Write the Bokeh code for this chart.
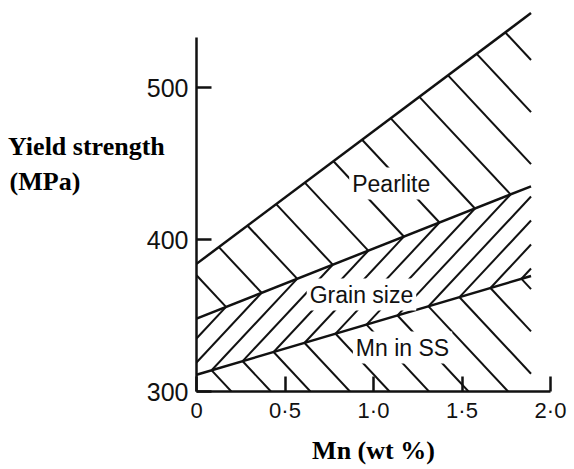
import numpy as np
from bokeh.plotting import figure
from bokeh.models import FixedTicker, Label
from bokeh.embed import file_html
from bokeh.resources import INLINE

# ---- data ----
mn = [0.0, 1.89]                 # Mn (wt %)
mn_in_ss = [311, 376]            # upper edge of "Mn in SS" band (MPa)
grain_size = [348, 435]          # upper edge of "Grain size" band (MPa)
pearlite = [384, 549]            # upper edge of "Pearlite" band (MPa)
x_ticks = [0, 0.5, 1.0, 1.5, 2.0]
x_tick_labels = ["0", "0·5", "1·0", "1·5", "2·0"]
y_ticks = [300, 400, 500]
region_names = ["Pearlite", "Grain size", "Mn in SS"]

# ---- layout ----
W, H = 574, 469
BL, BR, BT, BB = 196, 24, 5, 78
X0, X1 = 0.0, 2.0
Y0, Y1 = 300, 554
KX = (W - BL - BR) / (X1 - X0)
KY = (H - BT - BB) / (Y1 - Y0)

p = figure(width=W, height=H, x_range=(X0, X1), y_range=(Y0, Y1),
           output_backend="svg", toolbar_location=None,
           min_border_left=BL, min_border_right=BR,
           min_border_top=BT, min_border_bottom=BB)
p.outline_line_color = None
p.grid.visible = False
p.background_fill_color = "white"
p.border_fill_color = "white"

INK = "#111111"

# ---- hatching (derived from the boundary arrays, in pixel space) ----
def px(xs, ys):
    return (np.asarray(xs, float) - X0) * KX, (np.asarray(ys, float) - Y0) * KY

u_end = (mn[-1] - X0) * KX
uu = np.linspace(0.0, u_end, 4001)

def boundary(ys):
    u, w = px(mn, ys)
    s = (w[-1] - w[0]) / (u[-1] - u[0])
    return (lambda q: np.interp(q, u, w)), s, w[0] - s * u[0]

zero = lambda q: np.zeros_like(q)
f_b, s_b, i_b = boundary(mn_in_ss)
f_m, s_m, i_m = boundary(grain_size)
f_t, s_t, i_t = boundary(pearlite)

def clip(m, c, lower, upper):
    w = m * uu + c
    ok = (w >= lower(uu) - 1e-9) & (w <= upper(uu) + 1e-9)
    if not ok.any():
        return None
    idx = np.where(ok)[0]
    a, b = uu[idx[0]], uu[idx[-1]]
    if b - a < 1.0:
        return None
    return (a, m * a + c, b, m * b + c)

G, DC, C0 = 1.07, 24.0, 5.0
segs = []
for k in range(-25, 10):
    c = C0 + DC * k
    segs.append(clip(G, c, f_b, f_m))                    # grain size "/"
    ub = (i_b - c) / (G - s_b); wb = s_b * ub + i_b
    segs.append(clip(-G, wb + G * ub, zero, f_b))        # Mn in SS "\"
    um = (i_m - c) / (G - s_m); wm = s_m * um + i_m
    segs.append(clip(-G, wm + G * um, f_m, f_t))         # pearlite "\"
segs = [s for s in segs if s is not None]
x0 = [s[0] / KX + X0 for s in segs]
y0 = [s[1] / KY + Y0 for s in segs]
x1 = [s[2] / KX + X0 for s in segs]
y1 = [s[3] / KY + Y0 for s in segs]
p.segment(x0, y0, x1, y1, line_color=INK, line_width=2)

# ---- boundary lines ----
for ys in (mn_in_ss, grain_size, pearlite):
    p.line(mn, ys, line_color=INK, line_width=2.5)

# ---- region labels ----
label_pos = [(1.10, 436.8), (0.932, 363.8), (1.164, 328.9)]
for name, (lx, ly) in zip(region_names, label_pos):
    p.add_layout(Label(x=lx, y=ly, text=name, text_align="center",
                       text_baseline="middle", text_font="Liberation Sans",
                       text_font_size="23px", text_color=INK,
                       background_fill_color="white", padding=3))

# ---- axes ----
ax = p.xaxis[0]
ax.ticker = FixedTicker(ticks=x_ticks)
ax.major_label_overrides = {t: l for t, l in zip(x_ticks, x_tick_labels)}
ax.bounds = (X0, X1)
ax.axis_label = "Mn (wt %)"
ax.axis_label_standoff = 10
ax.major_label_standoff = 6

ay = p.yaxis[0]
ay.ticker = FixedTicker(ticks=y_ticks)
ay.bounds = (300, 533)
ay.major_label_standoff = 8
ay.axis_label = "Yield strength\n(MPa)" + "\u00a0" * 13 + "\n\n"
ay.axis_label_orientation = "horizontal"
ay.axis_label_standoff = -21

for a in (ax, ay):
    a.axis_line_color = INK
    a.axis_line_width = 2.5
    a.major_tick_line_color = INK
    a.major_tick_line_width = 2.5
    a.major_tick_in = 15
    a.major_tick_out = 0
    a.minor_tick_line_color = None
    a.major_label_text_font = "Liberation Sans"
    a.major_label_text_color = INK
    a.axis_label_text_font = "Liberation Serif"
    a.axis_label_text_font_style = "bold"
    a.axis_label_text_font_size = "26px"
    a.axis_label_text_color = "black"
ax.major_label_text_font_size = "22px"
ay.major_label_text_font_size = "25px"

open("out.html", "w").write(file_html(p, INLINE))
